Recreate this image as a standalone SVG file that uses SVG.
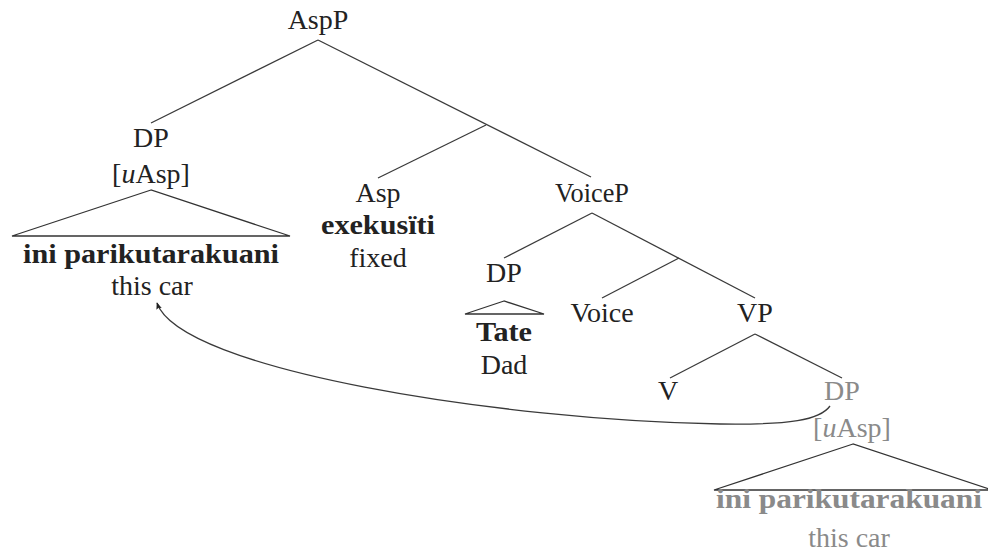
<svg xmlns="http://www.w3.org/2000/svg" width="988" height="554" viewBox="0 0 988 554">
<style>
text{font-family:"Liberation Serif","Times New Roman",serif;font-size:28px;fill:#222;text-anchor:middle}
.b{font-weight:bold}
.g{fill:#8a8a8a}
.e{stroke:#3a3a3a;stroke-width:1.3;fill:none}
.tri{stroke:#333;stroke-width:1.3;fill:none}
</style>
<defs>
<marker id="ah" viewBox="0 0 10 10" refX="9" refY="5" markerWidth="7" markerHeight="7" orient="auto" markerUnits="userSpaceOnUse">
<path d="M0,1 L10,5 L0,9 L2,5 Z" fill="#222"/>
</marker>
</defs>
<rect width="988" height="554" fill="#fff"/>
<g id="connectors">
<line class="e" x1="318" y1="40" x2="151" y2="123"/>
<line class="e" x1="318" y1="40" x2="591" y2="177"/>
<line class="e" x1="486" y1="125" x2="378" y2="178"/>
<line class="e" x1="592" y1="213" x2="504" y2="258"/>
<line class="e" x1="592" y1="213" x2="755" y2="298"/>
<line class="e" x1="679" y1="258" x2="602" y2="298"/>
<line class="e" x1="755" y1="334" x2="670" y2="378"/>
<line class="e" x1="755" y1="334" x2="842" y2="378"/>
<path class="e" stroke-width="1" d="M830,406 C820,420 790,425 720,424 C500,420 180,370 157,303" marker-end="url(#ah)"/>
</g>
<g id="AspP"><text x="318" y="29">AspP</text></g>
<g id="DP1">
<text x="151" y="147">DP</text>
<text x="151" y="183">[<tspan font-style="italic">u</tspan>Asp]</text>
<polygon class="tri" points="151,190 12,236 290,236"/>
<text class="b" x="151" y="263" textLength="256" lengthAdjust="spacingAndGlyphs">ini parikutarakuani</text>
<text x="152" y="295">this car</text>
</g>
<g id="Asp">
<text x="378" y="202">Asp</text>
<text class="b" x="378" y="234" textLength="114" lengthAdjust="spacingAndGlyphs">exekusïti</text>
<text x="378" y="267">fixed</text>
</g>
<g id="VoiceP"><text x="592" y="202" textLength="74" lengthAdjust="spacingAndGlyphs">VoiceP</text></g>
<g id="DP2">
<text x="504" y="282">DP</text>
<polygon class="tri" points="504,301 465,314 544,314"/>
<text class="b" x="504" y="341" textLength="56" lengthAdjust="spacingAndGlyphs">Tate</text>
<text x="504" y="374">Dad</text>
</g>
<g id="Voice"><text x="602" y="322">Voice</text></g>
<g id="VP"><text x="755" y="322">VP</text></g>
<g id="V"><text x="668" y="400">V</text></g>
<g id="DP3">
<text class="g" x="842" y="400">DP</text>
<text class="g" x="852" y="437">[<tspan font-style="italic">u</tspan>Asp]</text>
<polygon class="tri" points="853,444 714,490 992,490"/>
<text class="b g" x="849" y="508" textLength="266" lengthAdjust="spacingAndGlyphs">ini parikutarakuani</text>
<text class="g" x="849" y="547">this car</text>
</g>
</svg>
